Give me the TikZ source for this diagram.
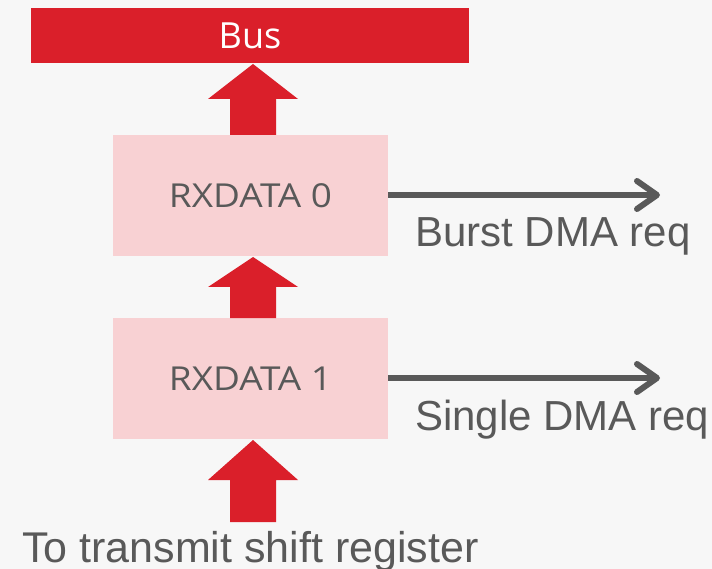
\documentclass[tikz,border=0pt]{standalone}
\usepackage{fontspec}
\setmainfont{Liberation Sans}
\newfontfamily\uifont[FakeStretch=1.12]{Open Sans}
\newfontfamily\busfont{Open Sans}
\usetikzlibrary{arrows.meta,calc}
\definecolor{busred}{RGB}{218,31,42}
\definecolor{boxpink}{RGB}{248,209,211}
\definecolor{bggray}{RGB}{247,247,247}
\definecolor{txtgray}{RGB}{89,89,89}

% wide upward block arrow: #1 tip, #2 tail centre, #3 head length
\newcommand{\fatarrow}[3]{%
  \fill[busred] (#1) -- ($(#1)+(45,#3)$) -- ($(#1)+(23,#3)$)
    -- ($(#2)+(23,0)$) -- ($(#2)+(-23,0)$) -- ($(#1)+(-23,#3)$)
    -- ($(#1)+(-45,#3)$) -- cycle;}

\begin{document}
\begin{tikzpicture}[x=1pt,y=-1pt,
  busbar/.style={fill=busred, text=white, minimum width=438pt, minimum height=55pt,
    inner sep=0pt, font=\busfont\fontsize{36}{42}\selectfont},
  regbox/.style={fill=boxpink, text=txtgray, minimum width=275pt, minimum height=121pt,
    inner sep=0pt, font=\uifont\fontsize{33}{38}\selectfont},
  reqarrow/.style={draw=txtgray, line width=6pt,
    -{Straight Barb[length=20pt,width=28pt,round]}},
  sidelabel/.style={text=txtgray, anchor=base west, inner sep=0pt,
    font=\fontsize{42}{50}\selectfont}]
\fill[bggray] (0,0) rectangle (712,569);
\useasboundingbox (0,0) rectangle (712,569);

\node[busbar] (bus) at (250,35.5) {\raisebox{-1.5pt}{Bus}};
\node[regbox] (rx0) at (250.5,195.5) {RXDATA 0};
\node[regbox] (rx1) at (250.5,378.5) {RXDATA 1};

% data path into the bus
\coordinate (tip1) at (253,64);
\coordinate (tail1) at (253,135);
\coordinate (tip2) at (253,257);
\coordinate (tail2) at (253,318);
\coordinate (tip3) at (253,440);
\coordinate (tail3) at (253,522);
\fatarrow{tip1}{tail1}{35}
\fatarrow{tip2}{tail2}{30}
\fatarrow{tip3}{tail3}{40}

% DMA request outputs
\coordinate (burst) at (660,195);
\coordinate (single) at (660,378);
\draw[reqarrow] (rx0.east |- burst) -- (burst);
\draw[reqarrow] (rx1.east |- single) -- (single);

\node[sidelabel] (burstlbl) at (415,247) {Burst DMA req};
\node[sidelabel] (singlelbl) at (415,430) {Single DMA req};
\node[sidelabel,font=\fontsize{43}{50}\selectfont] (srclbl) at (22,562) {To transmit shift register};
\end{tikzpicture}
\end{document}
